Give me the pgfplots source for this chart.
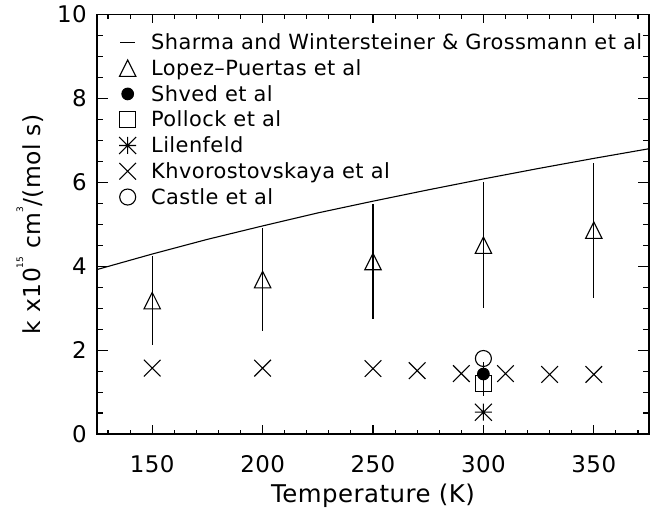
\documentclass[border=0pt]{standalone}
\usepackage{fontspec}
\setmainfont{DejaVu Sans}[LetterSpace=2]
\usepackage{pgfplots}
\pgfplotsset{compat=1.18}

\pgfdeclareplotmark{idltri}{%
  \pgfpathmoveto{\pgfqpoint{-\pgfplotmarksize}{-\pgfplotmarksize}}%
  \pgfpathlineto{\pgfqpoint{0pt}{\pgfplotmarksize}}%
  \pgfpathlineto{\pgfqpoint{\pgfplotmarksize}{-\pgfplotmarksize}}%
  \pgfpathclose\pgfusepathqstroke}
\pgfdeclareplotmark{idlx}{%
  \pgfpathmoveto{\pgfqpoint{-\pgfplotmarksize}{-\pgfplotmarksize}}%
  \pgfpathlineto{\pgfqpoint{\pgfplotmarksize}{\pgfplotmarksize}}%
  \pgfpathmoveto{\pgfqpoint{-\pgfplotmarksize}{\pgfplotmarksize}}%
  \pgfpathlineto{\pgfqpoint{\pgfplotmarksize}{-\pgfplotmarksize}}%
  \pgfusepathqstroke}
\pgfdeclareplotmark{idlast}{%
  \pgfpathmoveto{\pgfqpoint{-\pgfplotmarksize}{-\pgfplotmarksize}}%
  \pgfpathlineto{\pgfqpoint{\pgfplotmarksize}{\pgfplotmarksize}}%
  \pgfpathmoveto{\pgfqpoint{-\pgfplotmarksize}{\pgfplotmarksize}}%
  \pgfpathlineto{\pgfqpoint{\pgfplotmarksize}{-\pgfplotmarksize}}%
  \pgfpathmoveto{\pgfqpoint{-\pgfplotmarksize}{0pt}}%
  \pgfpathlineto{\pgfqpoint{\pgfplotmarksize}{0pt}}%
  \pgfpathmoveto{\pgfqpoint{0pt}{-\pgfplotmarksize}}%
  \pgfpathlineto{\pgfqpoint{0pt}{\pgfplotmarksize}}%
  \pgfusepathqstroke}
\pgfdeclareplotmark{idlsq}{%
  \pgfpathrectangle{\pgfqpoint{-\pgfplotmarksize}{-\pgfplotmarksize}}{\pgfqpoint{2\pgfplotmarksize}{2\pgfplotmarksize}}%
  \pgfusepathqstroke}

\pgfplotsset{
  onemark legend/.style={legend image code/.code={\draw[##1] plot coordinates {(7.5bp,0bp)};}},
  shortline legend/.style={legend image code/.code={\draw[##1] (0bp,0bp) -- (15bp,0bp);}},
}

\begin{document}
\begin{tikzpicture}
\begin{axis}[
  scale only axis,
  width=552bp, height=419.5bp,
  xmin=125, xmax=375, ymin=0, ymax=10,
  xtick={150,200,250,300,350},
  xticklabels={150,200,250,300,350},
  ytick={0,2,4,6,8,10},
  yticklabels={0,2,4,6,8,10},
  tick style={draw=none},
  axis line style={line width=1.2bp},
  ticklabel style={font=\fontsize{23}{23}\selectfont},
  xticklabel style={anchor=base, inner sep=0pt, yshift=-38.7bp},
  yticklabel style={anchor=east, inner sep=0pt, xshift=-10bp},
  xlabel={Temperature (K)},
  ylabel={k x10\raisebox{0.75em}{\fontsize{9}{9}\selectfont 15} cm\raisebox{0.75em}{\fontsize{9}{9}\selectfont 3}/(mol s)},
  every axis x label/.style={at={(axis description cs:0.5,0)}, anchor=base, yshift=-68bp,
    font=\fontsize{24.5}{25}\selectfont},
  every axis y label/.style={at={(axis description cs:0,0.5)}, xshift=-67bp, rotate=90, anchor=center,
    font=\fontsize{23.5}{24}\selectfont},
  legend style={draw=none, fill=none, at={(0,1)}, anchor=north west,
    xshift=22bp, yshift=-17bp, font=\fontsize{21}{24}\selectfont,
    row sep=4.4bp, column sep=13bp, inner sep=0pt},
  legend cell align=left,
  extra description/.code={
    \foreach \x in {130,140,...,370} {
      \pgfmathsetmacro{\r}{(\x-125)/250}
      \draw[black, line width=1.1bp] (\r,0) -- ++(0,4.5bp);
      \draw[black, line width=1.1bp] (\r,1) -- ++(0,-4.5bp);
    }
    \foreach \x in {150,200,...,350} {
      \pgfmathsetmacro{\r}{(\x-125)/250}
      \draw[black, line width=1.1bp] (\r,0) -- ++(0,8.7bp);
      \draw[black, line width=1.1bp] (\r,1) -- ++(0,-8.7bp);
    }
    \foreach \y in {0.5,1,...,9.5} {
      \pgfmathsetmacro{\r}{\y/10}
      \draw[black, line width=1.1bp] (0,\r) -- ++(6.5bp,0);
      \draw[black, line width=1.1bp] (1,\r) -- ++(-6.5bp,0);
    }
    \foreach \y in {2,4,6,8} {
      \pgfmathsetmacro{\r}{\y/10}
      \draw[black, line width=1.1bp] (0,\r) -- ++(11.5bp,0);
      \draw[black, line width=1.1bp] (1,\r) -- ++(-11.5bp,0);
    }
  },
]
\addplot[black, line width=1.1bp, no marks, shortline legend]
  coordinates {(125,3.92) (150,4.29) (175,4.64) (200,4.96) (225,5.27) (250,5.55)
               (275,5.82) (300,6.08) (325,6.33) (350,6.57) (375,6.80)};
\addlegendentry{Sharma and Wintersteiner \& Grossmann et al}

\addplot[black, only marks, mark=idltri, mark size=8.2bp, line width=1.1bp, onemark legend,
  error bars/.cd, y dir=both, y explicit, error mark=none,
  error bar style={line width=1.2bp}]
  coordinates {(150,3.18) +- (0,1.06) (200,3.68) +- (0,1.22) (250,4.11) +- (0,1.37)
               (300,4.50) +- (0,1.50) (350,4.86) +- (0,1.61)};
\addlegendentry{Lopez--Puertas et al}

\addplot[black, only marks, mark=*, mark size=5.8bp, line width=1.1bp, onemark legend,
  error bars/.cd, y dir=both, y explicit, error mark=none,
  error bar style={line width=1.2bp}]
  coordinates {(300,1.43) +- (0,0.29)};
\addlegendentry{Shved et al}

\addplot[black, only marks, mark=idlsq, mark size=8bp, line width=1.1bp, onemark legend,
  error bars/.cd, y dir=both, y explicit, error mark=none,
  error bar style={line width=1.2bp}]
  coordinates {(300,1.20) +- (0,0.30)};
\addlegendentry{Pollock et al}

\addplot[black, only marks, mark=idlast, mark size=8.5bp, line width=1.1bp, onemark legend]
  coordinates {(300,0.52)};
\addlegendentry{Lilenfeld}

\addplot[black, only marks, mark=idlx, mark size=8.3bp, line width=1.1bp, onemark legend]
  coordinates {(150,1.57) (200,1.57) (250,1.56) (270,1.51) (290,1.44)
               (310,1.44) (330,1.42) (350,1.42)};
\addlegendentry{Khvorostovskaya et al}

\addplot[black, only marks, mark=o, mark size=8bp, line width=1.1bp, onemark legend]
  coordinates {(300,1.80)};
\addlegendentry{Castle et al}
\end{axis}
\path (-97bp,-74bp) rectangle (553bp,434bp);
\end{tikzpicture}
\end{document}
